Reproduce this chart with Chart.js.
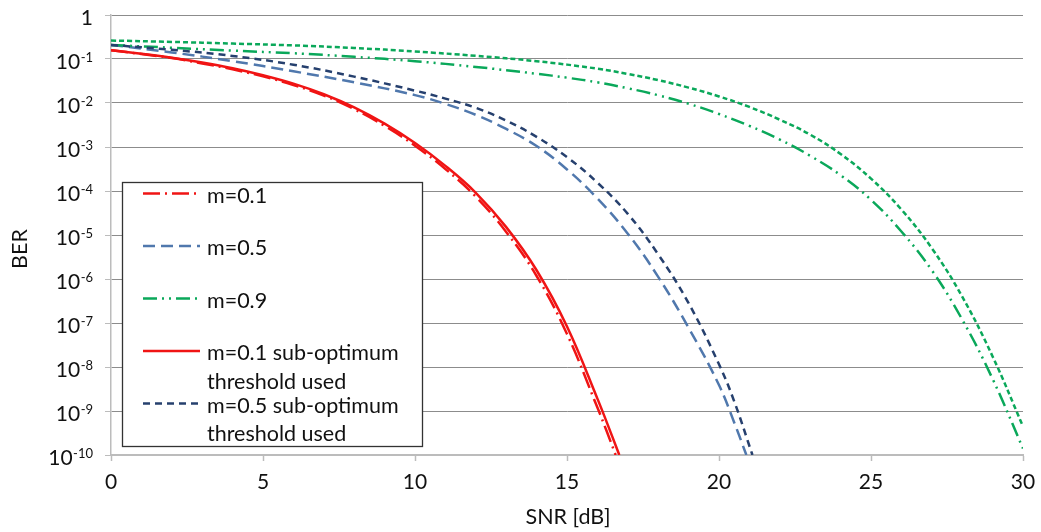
<!DOCTYPE html>
<html>
<head>
<meta charset="utf-8">
<script src="https://cdn.jsdelivr.net/npm/chart.js@4.4.1/dist/chart.umd.min.js"></script>
<style>
  html, body { margin: 0; padding: 0; background: #ffffff; }
  #wrap { width: 1041px; height: 532px; }
</style>
</head>
<body>
<div id="wrap"><canvas id="ber" width="1041" height="532"></canvas></div>
<script>
// BER versus SNR for three modulation indices, optimum and sub-optimum threshold
const snrM01 = [0, 1, 2, 3, 4, 5, 6, 7, 8, 9, 10, 11, 12, 13, 14, 15, 16, 16.3, 16.6];
const berM01 = [1.58e-1, 1.30e-1, 1.05e-1, 7.94e-2, 5.82e-2, 4.03e-2, 2.57e-2, 1.48e-2, 7.24e-3, 3.02e-3,
                1.07e-3, 3.16e-4, 7.41e-5, 1.17e-5, 1.17e-6, 5.62e-8, 1.2e-9, 3.55e-10, 1.0e-10];

const snrM05 = [0, 2, 4, 6, 8, 10, 11, 12, 13, 14, 15, 16, 17, 18, 19, 20, 20.5, 20.9];
const berM05 = [2.09e-1, 1.41e-1, 8.91e-2, 5.25e-2, 2.95e-2, 1.51e-2, 9.55e-3, 5.37e-3, 2.57e-3, 1.05e-3,
                3.09e-4, 6.76e-5, 1.07e-5, 1.12e-6, 7.76e-8, 3.89e-9, 5.5e-10, 1.0e-10];

const snrM09 = [0, 2, 4, 6, 8, 10, 12, 14, 15, 16, 17, 18, 19, 20, 21, 22, 23, 24, 25, 26, 27, 28, 29, 30];
const berM09 = [2.09e-1, 1.80e-1, 1.55e-1, 1.35e-1, 1.12e-1, 8.91e-2, 6.61e-2, 4.62e-2, 3.76e-2, 2.95e-2,
                2.16e-2, 1.50e-2, 9.62e-3, 5.62e-3, 3.02e-3, 1.48e-3, 6.31e-4, 2.29e-4, 6.31e-5, 1.20e-5,
                1.58e-6, 1.20e-7, 5.37e-9, 1.41e-10];

const snrM01Sub = [0, 1, 2, 3, 4, 5, 6, 7, 8, 9, 10, 11, 12, 13, 14, 15, 16, 16.5, 16.72];
const berM01Sub = [1.58e-1, 1.32e-1, 1.07e-1, 8.32e-2, 6.17e-2, 4.27e-2, 2.75e-2, 1.58e-2, 7.94e-3, 3.39e-3,
                   1.23e-3, 3.72e-4, 9.12e-5, 1.51e-5, 1.58e-6, 8.32e-8, 1.91e-9, 2.51e-10, 1.0e-10];

const snrM05Sub = [0, 2, 4, 6, 8, 10, 11, 12, 13, 14, 15, 16, 17, 18, 19, 20, 20.5, 21.1];
const berM05Sub = [2.09e-1, 1.62e-1, 1.175e-1, 7.41e-2, 3.98e-2, 1.91e-2, 1.26e-2, 7.76e-3, 3.98e-3, 1.70e-3,
                   5.89e-4, 1.55e-4, 3.02e-5, 3.63e-6, 2.82e-7, 1.15e-8, 1.66e-9, 1.0e-10];

const snrM09Sub = [0, 2, 4, 6, 8, 10, 12, 14, 16, 17, 18, 19, 20, 21, 22, 23, 24, 25, 26, 27, 28, 29, 30];
const berM09Sub = [2.63e-1, 2.45e-1, 2.24e-1, 2.04e-1, 1.78e-1, 1.48e-1, 1.18e-1, 8.91e-2, 6.03e-2, 4.57e-2,
                   3.31e-2, 2.24e-2, 1.41e-2, 8.13e-3, 4.17e-3, 1.91e-3, 6.92e-4, 1.91e-4, 3.8e-5, 5.01e-6,
                   3.98e-7, 1.74e-8, 4.47e-10];

const seriesNames = ['m=0.1', 'm=0.5', 'm=0.9',
                     'm=0.1 sub-optimum threshold used',
                     'm=0.5 sub-optimum threshold used',
                     'm=0.9 sub-optimum threshold used'];

const xTicks = [0, 5, 10, 15, 20, 25, 30];
const yTicks = [1, 1e-1, 1e-2, 1e-3, 1e-4, 1e-5, 1e-6, 1e-7, 1e-8, 1e-9, 1e-10];
const yTickLabels = [['1', ''], ['10', '-1'], ['10', '-2'], ['10', '-3'], ['10', '-4'], ['10', '-5'],
                     ['10', '-6'], ['10', '-7'], ['10', '-8'], ['10', '-9'], ['10', '-10']];
const xTitle = 'SNR [dB]';
const yTitle = 'BER';

const FONT = 'Lato, "Open Sans", sans-serif';
const RED = '#f01414';
const STEEL = '#5078ad';
const NAVY = '#26406e';
const GREEN = '#0aa85a';

function pts(xs, ys) { return xs.map((x, i) => ({ x: x, y: ys[i] })); }

const styles = [
  { color: RED,   dash: [17, 5, 2, 5] },
  { color: STEEL, dash: [12, 6] },
  { color: GREEN, dash: [14, 5, 2, 5, 2, 5] },
  { color: RED,   dash: [] },
  { color: NAVY,  dash: [7, 5] },
  { color: GREEN, dash: [5, 3] }
];
const series = [
  pts(snrM01, berM01), pts(snrM05, berM05), pts(snrM09, berM09),
  pts(snrM01Sub, berM01Sub), pts(snrM05Sub, berM05Sub), pts(snrM09Sub, berM09Sub)
];
const inLegend = [true, true, true, true, true, false];

const datasets = series.map((d, i) => ({
  label: seriesNames[i],
  data: d,
  borderColor: styles[i].color,
  backgroundColor: styles[i].color,
  borderDash: styles[i].dash,
  borderWidth: 2.5,
  borderCapStyle: 'butt',
  pointRadius: 0,
  tension: 0.4,
  fill: false,
  order: series.length - 1 - i,
  showInLegend: inLegend[i]
}));

// Tick labels with superscript exponents and the two axis titles
const axisText = {
  id: 'axisText',
  afterDraw(chart) {
    const ctx = chart.ctx;
    const xs = chart.scales.x, ys = chart.scales.y;
    ctx.save();
    ctx.fillStyle = '#111';
    ctx.textBaseline = 'alphabetic';
    ctx.font = '21px ' + FONT;
    ctx.textAlign = 'center';
    xTicks.forEach(v => ctx.fillText(String(v), xs.getPixelForValue(v), 488.5));

    const right = 93;
    yTicks.forEach((v, i) => {
      const py = ys.getPixelForValue(v);
      const [base, exp] = yTickLabels[i];
      ctx.textAlign = 'right';
      let expW = 0;
      if (exp) {
        ctx.font = '13px ' + FONT;
        expW = ctx.measureText(exp).width;
        ctx.fillText(exp, right, py + 2.5);
      }
      ctx.font = '21px ' + FONT;
      ctx.fillText(base, right - expW - (exp ? 0.5 : 0), py + 9.5);
    });

    ctx.font = '21.5px ' + FONT;
    ctx.textAlign = 'center';
    ctx.textBaseline = 'middle';
    ctx.fillText(xTitle, (chart.chartArea.left + chart.chartArea.right) / 2 + 1, 517);
    ctx.translate(20, 249);
    ctx.rotate(-Math.PI / 2);
    ctx.fillText(yTitle, 0, 0);
    ctx.restore();
  }
};

// Boxed legend placed inside the plot area
const boxLegend = {
  id: 'boxLegend',
  afterDatasetsDraw(chart) {
    const ctx = chart.ctx;
    const bx = 122.5, by = 182.5, bw = 300, bh = 264;
    ctx.save();
    ctx.fillStyle = '#ffffff';
    ctx.fillRect(bx, by, bw, bh);
    ctx.strokeStyle = '#333333';
    ctx.lineWidth = 1.3;
    ctx.setLineDash([]);
    ctx.strokeRect(bx, by, bw, bh);

    ctx.font = '21.5px ' + FONT;
    ctx.textAlign = 'left';
    ctx.textBaseline = 'alphabetic';
    let row = 0;
    chart.data.datasets.forEach(ds => {
      if (!ds.showInLegend) return;
      const cy = 195 + row * 52.5;
      ctx.strokeStyle = ds.borderColor;
      ctx.lineWidth = 2.5;
      ctx.lineCap = 'butt';
      ctx.setLineDash(ds.borderDash);
      ctx.beginPath();
      ctx.moveTo(143, cy - 1.5);
      ctx.lineTo(200, cy - 1.5);
      ctx.stroke();
      ctx.setLineDash([]);

      // wrap the label to the legend width
      const words = ds.label.split(' ');
      const lines = [];
      let cur = '';
      words.forEach(w => {
        const t = cur ? cur + ' ' + w : w;
        if (ctx.measureText(t).width > 205 && cur) { lines.push(cur); cur = w; }
        else cur = t;
      });
      if (cur) lines.push(cur);
      ctx.fillStyle = '#111';
      lines.forEach((ln, k) => ctx.fillText(ln, 207, cy + 7.5 + k * 28.5));
      row++;
    });
    ctx.restore();
  }
};

new Chart(document.getElementById('ber'), {
  type: 'line',
  data: { datasets: datasets },
  options: {
    responsive: false,
    animation: false,
    devicePixelRatio: 1,
    layout: { padding: { left: 0, right: 18, top: 15, bottom: 0 } },
    plugins: { legend: { display: false }, tooltip: { enabled: false } },
    scales: {
      x: {
        type: 'linear', min: 0, max: 30,
        afterBuildTicks: s => { s.ticks = xTicks.map(v => ({ value: v })); },
        ticks: { display: false },
        grid: { drawOnChartArea: false, drawTicks: true, tickLength: 6, tickColor: '#bcbcbc', tickWidth: 1.5 },
        border: { display: true, color: '#bcbcbc', width: 2 },
        afterFit: s => { s.height = 77; }
      },
      y: {
        type: 'logarithmic', min: 1e-10, max: 1,
        afterBuildTicks: s => { s.ticks = yTicks.map(v => ({ value: v })); },
        ticks: { display: false },
        grid: { color: '#8c8c8c', lineWidth: 1, drawTicks: true, tickLength: 6, tickColor: '#bcbcbc' },
        border: { display: true, color: '#bcbcbc', width: 1.5 },
        afterFit: s => { s.width = 111; }
      }
    }
  },
  plugins: [axisText, boxLegend]
});
</script>
</body>
</html>
